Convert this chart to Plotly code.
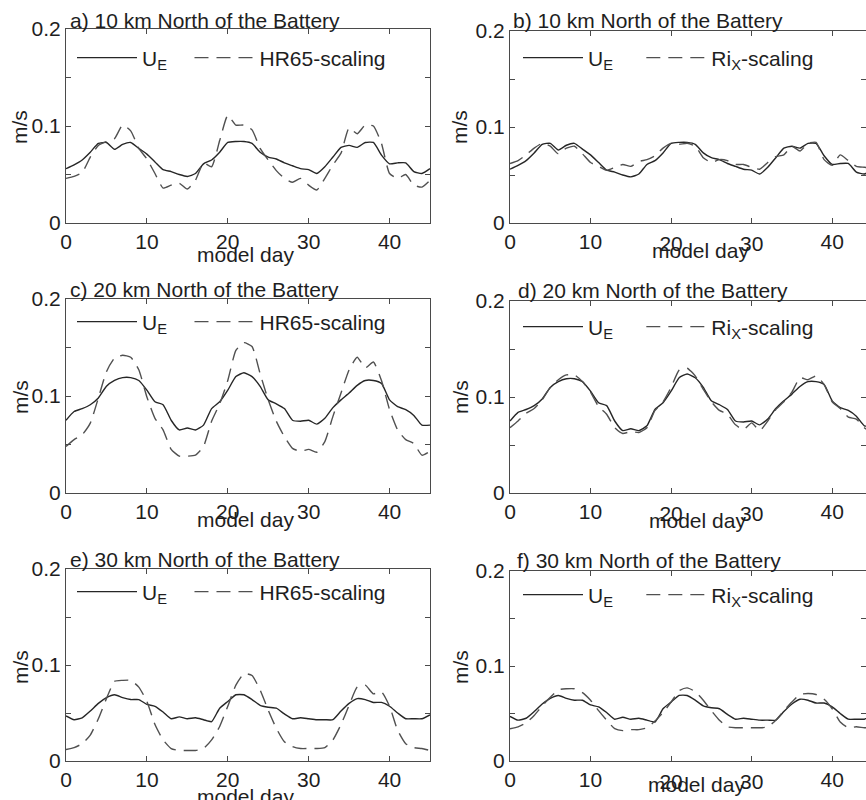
import plotly.graph_objects as go

days = list(range(46))

ue10 = [0.056, 0.060, 0.065, 0.073, 0.082, 0.083, 0.076, 0.081, 0.083, 0.077,
        0.071, 0.063, 0.055, 0.053, 0.050, 0.048, 0.051, 0.061, 0.065, 0.073,
        0.083, 0.084, 0.084, 0.082, 0.073, 0.068, 0.066, 0.062, 0.059, 0.056,
        0.055, 0.051, 0.058, 0.068, 0.078, 0.080, 0.078, 0.083, 0.083, 0.070,
        0.061, 0.062, 0.062, 0.053, 0.051, 0.056]
hr10 = [0.046, 0.048, 0.052, 0.068, 0.080, 0.084, 0.087, 0.101, 0.095, 0.077,
        0.066, 0.051, 0.036, 0.039, 0.041, 0.035, 0.044, 0.062, 0.058, 0.085,
        0.111, 0.101, 0.101, 0.096, 0.077, 0.065, 0.054, 0.046, 0.042, 0.046,
        0.039, 0.034, 0.046, 0.060, 0.072, 0.098, 0.092, 0.101, 0.100, 0.082,
        0.051, 0.046, 0.050, 0.039, 0.037, 0.044]
ri10 = [0.062, 0.065, 0.071, 0.078, 0.083, 0.080, 0.072, 0.078, 0.080, 0.072,
        0.063, 0.059, 0.055, 0.058, 0.061, 0.059, 0.064, 0.066, 0.070, 0.078,
        0.083, 0.082, 0.083, 0.080, 0.068, 0.063, 0.066, 0.065, 0.061, 0.061,
        0.058, 0.056, 0.063, 0.069, 0.071, 0.080, 0.075, 0.083, 0.084, 0.066,
        0.060, 0.071, 0.065, 0.059, 0.058, 0.057]

ue20 = [0.075, 0.084, 0.087, 0.091, 0.098, 0.110, 0.116, 0.119, 0.119, 0.116,
        0.106, 0.094, 0.091, 0.075, 0.065, 0.067, 0.065, 0.070, 0.087, 0.094,
        0.106, 0.120, 0.124, 0.120, 0.110, 0.096, 0.092, 0.087, 0.075, 0.074,
        0.075, 0.071, 0.077, 0.088, 0.096, 0.103, 0.111, 0.116, 0.116, 0.113,
        0.096, 0.089, 0.086, 0.080, 0.070, 0.070]
hr20 = [0.048, 0.055, 0.060, 0.072, 0.098, 0.125, 0.139, 0.142, 0.140, 0.127,
        0.099, 0.077, 0.065, 0.045, 0.038, 0.038, 0.039, 0.048, 0.074, 0.092,
        0.116, 0.147, 0.155, 0.151, 0.123, 0.096, 0.074, 0.058, 0.046, 0.043,
        0.045, 0.042, 0.053, 0.079, 0.103, 0.127, 0.140, 0.129, 0.135, 0.116,
        0.086, 0.065, 0.055, 0.051, 0.039, 0.043]
ri20 = [0.068, 0.075, 0.083, 0.088, 0.097, 0.110, 0.118, 0.123, 0.123, 0.116,
        0.105, 0.090, 0.082, 0.068, 0.062, 0.064, 0.063, 0.068, 0.086, 0.095,
        0.110, 0.128, 0.130, 0.122, 0.108, 0.095, 0.086, 0.082, 0.071, 0.066,
        0.073, 0.065, 0.075, 0.087, 0.095, 0.105, 0.120, 0.118, 0.122, 0.113,
        0.095, 0.088, 0.079, 0.077, 0.068, 0.062]

ue30 = [0.047, 0.043, 0.045, 0.052, 0.060, 0.066, 0.069, 0.066, 0.064, 0.064,
        0.059, 0.057, 0.051, 0.044, 0.046, 0.044, 0.045, 0.043, 0.041, 0.055,
        0.062, 0.069, 0.069, 0.064, 0.058, 0.056, 0.055, 0.049, 0.044, 0.045,
        0.044, 0.043, 0.043, 0.043, 0.052, 0.060, 0.065, 0.064, 0.061, 0.061,
        0.057, 0.050, 0.044, 0.044, 0.044, 0.048]
hr30 = [0.012, 0.014, 0.018, 0.027, 0.044, 0.065, 0.083, 0.084, 0.084, 0.077,
        0.062, 0.038, 0.022, 0.013, 0.011, 0.011, 0.011, 0.013, 0.022, 0.036,
        0.057, 0.079, 0.091, 0.089, 0.074, 0.053, 0.034, 0.020, 0.015, 0.013,
        0.013, 0.013, 0.014, 0.022, 0.038, 0.058, 0.077, 0.079, 0.070, 0.072,
        0.057, 0.032, 0.018, 0.014, 0.013, 0.011]
ri30 = [0.034, 0.036, 0.040, 0.048, 0.058, 0.067, 0.075, 0.076, 0.076, 0.072,
        0.064, 0.053, 0.043, 0.034, 0.032, 0.033, 0.033, 0.035, 0.042, 0.051,
        0.062, 0.074, 0.077, 0.073, 0.064, 0.053, 0.043, 0.036, 0.035, 0.035,
        0.035, 0.035, 0.036, 0.043, 0.053, 0.062, 0.070, 0.071, 0.070, 0.065,
        0.055, 0.041, 0.035, 0.036, 0.035, 0.035]

panel_titles = ["a) 10 km North of the Battery", "b) 10 km North of the Battery",
                "c) 20 km North of the Battery", "d) 20 km North of the Battery",
                "e) 30 km North of the Battery", "f) 30 km North of the Battery"]
solid_name = "U<sub>E</sub>"
dashed_names = ["HR65-scaling", "Ri<sub>X</sub>-scaling"]
xtick_vals = [0, 10, 20, 30, 40]
xtick_text_left = ["0", "10", "20", "30", "40"]
xtick_text_right = ["0", "10", "", "", "40"]
xtick_lowered = [20, 30]
ytick_vals = [0, 0.05, 0.1, 0.15, 0.2]
ytick_text = ["0", "", "0.1", "", "0.2"]
x_label = "model day"
y_label = "m/s"

solid_series = [ue10, ue10, ue20, ue20, ue30, ue30]
dashed_series = [hr10, ri10, hr20, ri20, hr30, ri30]

# ---- layout geometry (pixels) ----
W, H = 866, 800
FONT = "Liberation Sans, Arial, sans-serif"
FS = 21
TXT = "#1e1e1e"
FRAME = "#4a4a4a"
col_x = [(66, 430, 45.0), (510, 866, 44.2)]
row_y = [[(29, 223), (31, 223)], [(299, 493), (301, 493)], [(569, 761), (571, 761)]]
title_pos = [(68, 20), (511, 20), (68, 289), (516, 290), (68, 559), (515, 560)]
legend_pos = [(72, 58), (518, 58), (72, 322), (518, 327), (72, 592), (518, 595)]
legend_pad = [3, 4]
ylab_pos = [(20, 127), (460, 127), (20, 397), (460, 397), (20, 667), (460, 667)]
xlab_pos = [(245, 254), (700, 250), (245, 519), (697, 520), (245, 796), (696, 784)]

fig = go.Figure()
layout = dict(width=W, height=H, margin=dict(l=0, r=0, t=0, b=0),
              paper_bgcolor="white", plot_bgcolor="white",
              font=dict(family=FONT, size=FS, color=TXT), annotations=[])

axis_common = dict(showgrid=False, zeroline=False, showline=True, mirror="ticks",
                   linecolor=FRAME, linewidth=1, ticks="inside", ticklen=5,
                   tickcolor=FRAME, tickfont=dict(size=FS, color=TXT, family=FONT),
                   automargin=False)

extra = 7
for i in range(6):
    s = "" if i == 0 else str(i + 1)
    r, c = divmod(i, 2)
    x0, x1, xmax = col_x[c]
    yt, yb = row_y[r][c]
    lg = "legend" + s
    fig.add_trace(go.Scatter(
        x=days, y=solid_series[i], mode="lines",
        name=solid_name + "\u00a0" * legend_pad[c],
        xaxis="x" + s, yaxis="y" + s, legend=lg,
        line=dict(color="#262626", width=1.4, shape="spline", smoothing=0.5)))
    fig.add_trace(go.Scatter(
        x=days, y=dashed_series[i], mode="lines", name=dashed_names[c],
        xaxis="x" + s, yaxis="y" + s, legend=lg,
        line=dict(color="#505050", width=1.4, dash="14px,8px", shape="spline", smoothing=0.5)))

    layout["xaxis" + s] = dict(axis_common, domain=[x0 / W, x1 / W], range=[0, xmax],
                               tickvals=xtick_vals,
                               ticktext=xtick_text_left if c == 0 else xtick_text_right,
                               anchor="y" + s)
    layout["yaxis" + s] = dict(axis_common, domain=[1 - yb / H, 1 - yt / H], range=[0, 0.2],
                               tickvals=ytick_vals, ticktext=ytick_text, anchor="x" + s)
    if c == 1:
        # the reference prints the 20 and 30 labels slightly lower on the right panels
        layout["xaxis" + str(extra)] = dict(
            domain=[x0 / W, x1 / W], range=[0, xmax], overlaying="x" + s, anchor="y" + s,
            side="bottom", showgrid=False, zeroline=False, showline=False, ticks="",
            tickvals=xtick_lowered, ticklabelstandoff=6,
            tickfont=dict(size=FS, color=TXT, family=FONT), automargin=False)
        fig.add_trace(go.Scatter(x=[], y=[], xaxis="x" + str(extra), yaxis="y" + s,
                                 showlegend=False, hoverinfo="skip"))
        extra += 1

    lx, ly = legend_pos[i]
    layout[lg] = dict(x=lx / W, y=1 - ly / H, xanchor="left", yanchor="middle",
                      orientation="h", bgcolor="rgba(0,0,0,0)", borderwidth=0,
                      font=dict(size=FS, color=TXT, family=FONT),
                      itemwidth=60, tracegroupgap=0)
    tx, ty = title_pos[i]
    layout["annotations"].append(dict(text=panel_titles[i], x=tx / W, y=1 - ty / H,
                                      xref="paper", yref="paper", xanchor="left",
                                      yanchor="middle", showarrow=False,
                                      font=dict(size=FS, color=TXT)))
    ax_, ay_ = ylab_pos[i]
    layout["annotations"].append(dict(text=y_label, x=ax_ / W, y=1 - ay_ / H,
                                      xref="paper", yref="paper", xanchor="center",
                                      yanchor="middle", showarrow=False, textangle=-90,
                                      font=dict(size=FS, color=TXT)))
    bx, by = xlab_pos[i]
    layout["annotations"].append(dict(text=x_label, x=bx / W, y=1 - by / H,
                                      xref="paper", yref="paper", xanchor="center",
                                      yanchor="middle", showarrow=False,
                                      font=dict(size=FS, color=TXT)))

fig.update_layout(**layout)
fig.write_html("out.html")
